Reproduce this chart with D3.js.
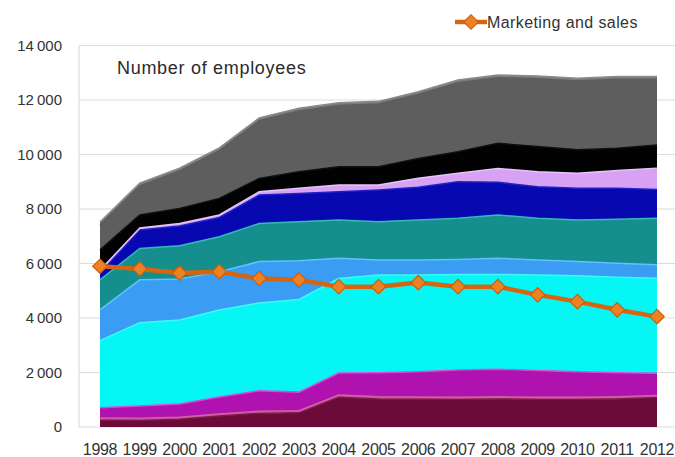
<!DOCTYPE html>
<html>
<head>
<meta charset="utf-8">
<script src="https://cdn.jsdelivr.net/npm/d3@7"></script>
<style>
  html, body { margin: 0; padding: 0; background: #fff; }
  svg { display: block; font-family: "Liberation Sans", Arial, sans-serif; }
</style>
</head>
<body>
<svg id="chart" width="675" height="457"></svg>
<script>
// Years on the horizontal axis
const years = ["1998","1999","2000","2001","2002","2003","2004","2005","2006","2007","2008","2009","2010","2011","2012"];

// Employees per staff group (stacked from the bottom up)
const groupMaroon   = [250, 240, 280, 400, 500, 520, 1090, 1030, 1020, 1010, 1030, 1010, 1010, 1030, 1080];
const groupRose     = [80, 80, 80, 80, 80, 80, 80, 80, 80, 80, 80, 80, 80, 80, 80];
const groupMagenta  = [380, 450, 480, 620, 750, 680, 810, 880, 930, 1000, 1010, 980, 940, 880, 810];
const groupCyan     = [2460, 3060, 3090, 3190, 3220, 3400, 3470, 3590, 3550, 3510, 3480, 3510, 3520, 3510, 3490];
const groupSky      = [1130, 1570, 1500, 1410, 1520, 1420, 740, 550, 550, 550, 590, 550, 520, 510, 490];
const groupTeal     = [1100, 1150, 1220, 1280, 1400, 1430, 1410, 1400, 1470, 1510, 1590, 1530, 1530, 1610, 1710];
const groupBlue     = [250, 680, 730, 710, 1040, 1040, 1030, 1170, 1200, 1340, 1200, 1160, 1160, 1140, 1060];
const groupLavender = [100, 70, 90, 90, 120, 190, 250, 180, 330, 310, 510, 550, 550, 650, 780];
const groupBlack    = [750, 480, 550, 610, 490, 610, 670, 670, 720, 790, 920, 920, 860, 820, 850];
const groupGray     = [920, 1070, 1380, 1750, 2120, 2230, 2250, 2300, 2350, 2530, 2410, 2490, 2530, 2530, 2410];
const groupSilver   = [100, 100, 100, 100, 100, 100, 100, 100, 100, 100, 100, 100, 100, 100, 100];

// Line series
const marketingSales = [5900, 5800, 5650, 5700, 5450, 5400, 5150, 5150, 5300, 5150, 5150, 4850, 4600, 4300, 4050];

// Value axis ticks
const yTicks = [0, 2000, 4000, 6000, 8000, 10000, 12000, 14000];

const groups = [
  { key: "maroon",   values: groupMaroon,   fill: "#6a0b3a", edge: "#7d1a4a" },
  { key: "rose",     values: groupRose,     fill: "#c2508c", edge: "#cf62a0" },
  { key: "magenta",  values: groupMagenta,  fill: "#b012b0", edge: "#d64ad6" },
  { key: "cyan",     values: groupCyan,     fill: "#06f6f6", edge: "#3cfafa" },
  { key: "sky",      values: groupSky,      fill: "#3a9cf2", edge: "#62c0fa" },
  { key: "teal",     values: groupTeal,     fill: "#158e8e", edge: "#36b8b8" },
  { key: "blue",     values: groupBlue,     fill: "#0808b0", edge: "#2020c8" },
  { key: "lavender", values: groupLavender, fill: "#d7a2f4", edge: "#e6c4fa" },
  { key: "black",    values: groupBlack,    fill: "#020202", edge: "#101010" },
  { key: "gray",     values: groupGray,     fill: "#5e5e5e", edge: "#5e5e5e" },
  { key: "silver",   values: groupSilver,   fill: "#7c7c7c", edge: "#8a8a8a" }
];

const table = years.map((y, i) => {
  const row = { year: y };
  groups.forEach(g => { row[g.key] = g.values[i]; });
  return row;
});

const svg = d3.select("#chart");

const x = d3.scalePoint().domain(years).range([100, 657]);
const y = d3.scaleLinear().domain([0, 14000]).range([427, 45.5]);

// Gridlines
svg.append("g")
  .selectAll("line")
  .data(yTicks)
  .join("line")
  .attr("x1", 79).attr("x2", 675)
  .attr("y1", d => y(d)).attr("y2", d => y(d))
  .attr("stroke", "#dcdcdc").attr("stroke-width", 1.2);

// Left edge of the plot area
svg.append("line")
  .attr("x1", 79).attr("x2", 79)
  .attr("y1", y(14000)).attr("y2", y(0))
  .attr("stroke", "#dcdcdc").attr("stroke-width", 1.2);

// Stacked areas
const stack = d3.stack().keys(groups.map(g => g.key));
const series = stack(table);

const area = d3.area()
  .x(d => x(d.data.year))
  .y0(d => y(d[0]))
  .y1(d => y(d[1]));

const topEdge = d3.line()
  .x(d => x(d.data.year))
  .y(d => y(d[1]));

const layers = svg.append("g");
series.forEach((s, i) => {
  layers.append("path")
    .attr("d", area(s))
    .attr("fill", groups[i].fill);
});
series.forEach((s, i) => {
  layers.append("path")
    .attr("d", topEdge(s))
    .attr("fill", "none")
    .attr("stroke", groups[i].edge)
    .attr("stroke-width", 1.5);
});

// Y axis labels
svg.append("g")
  .selectAll("text")
  .data(yTicks)
  .join("text")
  .attr("x", 62)
  .attr("y", d => y(d))
  .attr("dy", "0.36em")
  .attr("text-anchor", "end")
  .attr("font-size", 15)
  .attr("fill", "#333")
  .text(d => d === 0 ? "0" : d3.format(",")(d).replace(",", "\u2009"));

// X axis labels
svg.append("g")
  .selectAll("text")
  .data(years)
  .join("text")
  .attr("x", d => x(d))
  .attr("y", 455)
  .attr("text-anchor", "middle")
  .attr("font-size", 16)
  .attr("letter-spacing", -0.3)
  .attr("fill", "#333")
  .text(d => d);

// Marketing and sales line
const lineGen = d3.line()
  .x((d, i) => x(years[i]))
  .y(d => y(d));

svg.append("path")
  .attr("d", lineGen(marketingSales))
  .attr("fill", "none")
  .attr("stroke", "#d5650f")
  .attr("stroke-width", 4.5)
  .attr("stroke-linejoin", "round");

const diamond = d3.symbol().type(d3.symbolSquare).size(105);
svg.append("g")
  .selectAll("path")
  .data(marketingSales)
  .join("path")
  .attr("d", diamond)
  .attr("transform", (d, i) => `translate(${x(years[i])},${y(d)}) rotate(45)`)
  .attr("fill", "#ec8224")
  .attr("stroke", "#cc5f0c")
  .attr("stroke-width", 1.2);

// Chart title inside the plot
svg.append("text")
  .attr("x", 117)
  .attr("y", 74)
  .attr("font-size", 18)
  .attr("letter-spacing", 0.7)
  .attr("fill", "#2a2a2a")
  .text("Number of employees");

// Legend
const legend = svg.append("g").attr("transform", "translate(455,22)");
legend.append("line")
  .attr("x1", 0).attr("x2", 32)
  .attr("y1", 0).attr("y2", 0)
  .attr("stroke", "#d5650f").attr("stroke-width", 4.5);
legend.append("path")
  .attr("d", diamond)
  .attr("transform", "translate(16,0) rotate(45)")
  .attr("fill", "#ec8224")
  .attr("stroke", "#cc5f0c")
  .attr("stroke-width", 1.2);
legend.append("text")
  .attr("x", 32)
  .attr("y", 0)
  .attr("dy", "0.36em")
  .attr("font-size", 16)
  .attr("letter-spacing", 0.4)
  .attr("fill", "#333")
  .text("Marketing and sales");
</script>
</body>
</html>
